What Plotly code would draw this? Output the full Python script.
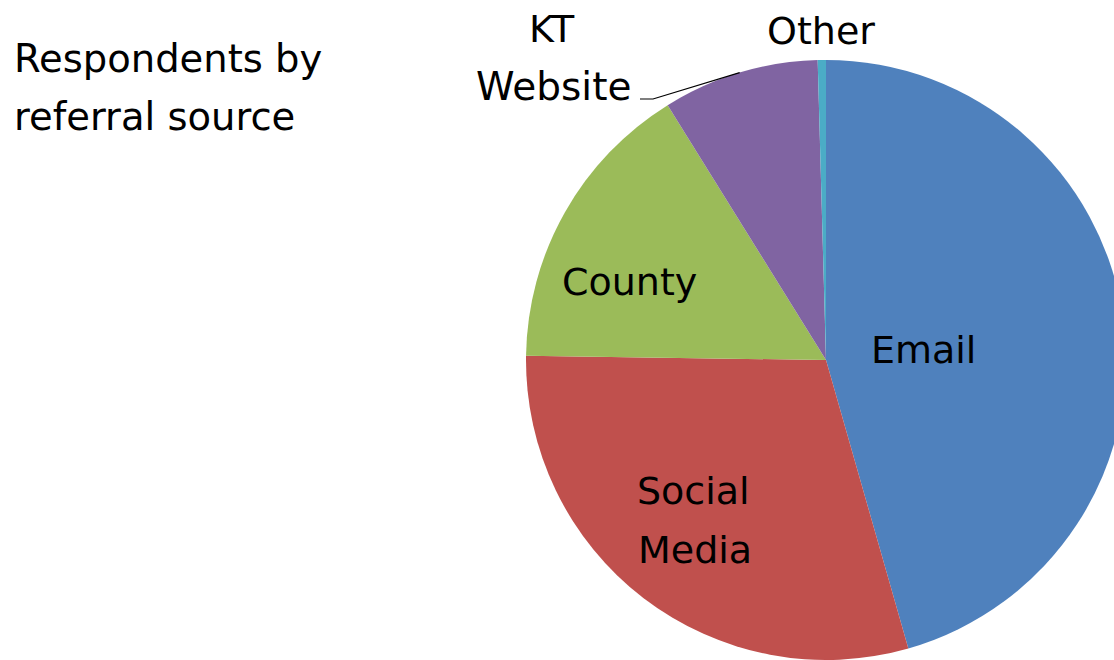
import math
import plotly.graph_objects as go

# ---- data ----
labels = ["Email", "Social Media", "County", "KT Website", "Other"]
values = [103, 67, 36, 19, 1]
colors = ["#4F81BD", "#C0504D", "#9BBB59", "#8064A2", "#4BACC6"]
title_lines = ["Respondents by", "referral source"]

# ---- layout geometry (pixels) ----
W, H = 1126, 660
CX, CY, R = 826, 360, 300
FONT = "DejaVu Sans"
LABEL_SIZE = 38
TITLE_SIZE = 38.5


def px(x):
    return x / W


def py(y):
    return 1 - y / H


fig = go.Figure(
    go.Pie(
        labels=labels,
        values=values,
        sort=False,
        direction="clockwise",
        rotation=0,
        marker=dict(colors=colors, line=dict(width=0)),
        textinfo="none",
        hoverinfo="label+value+percent",
        showlegend=False,
        domain=dict(x=[(CX - R) / W, 1.0], y=[0, 1 - (CY - R) / H]),
    )
)

annotations = []


def ann(text, x, y, size, xanchor="center"):
    annotations.append(
        dict(
            text=text, x=px(x), y=py(y), xref="paper", yref="paper",
            xanchor=xanchor, yanchor="middle", showarrow=False,
            font=dict(family=FONT, size=size, color="black"),
        )
    )


# title (two lines)
ann(title_lines[0], 12, 59, TITLE_SIZE, "left")
ann(title_lines[1], 12, 116, TITLE_SIZE, "left")

# slice labels
ann("Email", 923, 350, LABEL_SIZE)
ann("Social", 693, 491, LABEL_SIZE)
ann("Media", 695, 550, LABEL_SIZE)
ann("County", 629, 282, LABEL_SIZE)
ann("KT", 552, 29, LABEL_SIZE)
ann("Website", 553, 86, 39)
ann("Other", 821, 31, LABEL_SIZE)

# leader line for KT Website: ends on the rim at the slice's mid angle
total = sum(values)
cum = sum(values[:3])
mid = (cum + values[3] / 2) / total * 2 * math.pi
ex = CX + R * math.sin(mid)
ey = CY - R * math.cos(mid)
path = f"M {px(640)},{py(99)} L {px(653)},{py(99)} L {px(ex)},{py(ey)}"

fig.update_layout(
    width=W,
    height=H,
    margin=dict(l=0, r=0, t=0, b=0),
    paper_bgcolor="white",
    plot_bgcolor="white",
    annotations=annotations,
    shapes=[dict(type="path", path=path, xref="paper", yref="paper",
                 line=dict(color="black", width=1.2))],
)

fig.write_html(
    "out.html",
    config={"displayModeBar": False},
    post_script="document.body.style.margin='0';document.body.style.overflow='hidden';",
)
